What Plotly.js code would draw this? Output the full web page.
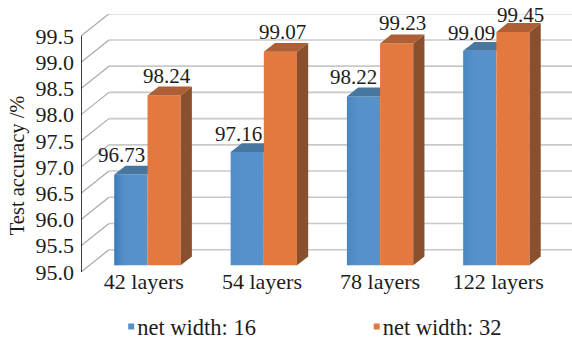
<!DOCTYPE html>
<html>
<head>
<meta charset="utf-8">
<script src="https://cdn.plot.ly/plotly-3.0.1.min.js"></script>
<style>html,body{margin:0;padding:0;background:#fff}#chart{width:572px;height:340px}</style>
</head>
<body>
<div id="chart"></div>
<script>
// Test accuracy per network depth, two network widths
const categories = ['42 layers', '54 layers', '78 layers', '122 layers'];
const width16 = [96.73, 97.16, 98.22, 99.09];
const width32 = [98.24, 99.07, 99.23, 99.45];
const seriesNames = ['net width: 16', 'net width: 32'];
const yTicks = [95.0, 95.5, 96.0, 96.5, 97.0, 97.5, 98.0, 98.5, 99.0, 99.5];

// Pixel scale of the front plane
const pxPerCat = 116.4, pxPerUnit = 52.55;
const left = 80.5, top_ = 14, bottom = 67.5, W = 572, H = 340;
const yMin = 95;

// Oblique depth vector: the back wall sits this far from the front plane
const depthX = 28 / pxPerCat, depthY = 22.3 / pxPerUnit;
const near = 0.3, far = 0.7, barW = 33.2 / pxPerCat;

const xRange = [-0.5, -0.5 + (W - left) / pxPerCat];
const yRange = [yMin, yMin + (H - top_ - bottom) / pxPerUnit];

const serif = '"Liberation Serif", "Times New Roman", serif';
const ink = '#1c1c1c';
const colors = {
  blue: {front: '#5692C9', top: '#47769F'},
  orange: {front: '#E4793F', top: '#AE5F35', side: '#8A4F2D'}
};

function poly(pts, color, xa, ya) {
  return {
    type: 'scatter', mode: 'lines', xaxis: xa, yaxis: ya,
    x: pts.map(p => p[0]), y: pts.map(p => p[1]),
    fill: 'toself', fillcolor: color, line: {width: 0, color: color},
    hoverinfo: 'skip', showlegend: false
  };
}
function at(x, v, d) { return [x + d * depthX, v + d * depthY]; }

function barFront(values, name, color, off, xa, ya, legendId) {
  return {
    type: 'bar', name: name, xaxis: xa, yaxis: ya, legend: legendId,
    x: values.map((_, i) => i + near * depthX),
    y: values.map(v => v - yMin),
    base: values.map(() => yMin + near * depthY),
    width: barW, offset: off,
    marker: {color: color, line: {width: 0}},
    hoverinfo: 'skip', showlegend: true
  };
}
function topFace(x0, x1, v, color, xa, ya) {
  return poly([at(x0, v, near), at(x1, v, near), at(x1, v, far), at(x0, v, far), at(x0, v, near)], color, xa, ya);
}
function sideFace(x1, v, color, xa, ya) {
  return poly([at(x1, yMin, near), at(x1, yMin, far), at(x1, v, far), at(x1, v, near), at(x1, yMin, near)], color, xa, ya);
}
// Soft darker shading towards the left edge of a blue bar
function edgeShade(i, v, strength) {
  const x0 = i - barW, x1 = i - barW * 0.55;
  const t = poly([at(x0, yMin, near), at(x1, yMin, near), at(x1, v, near), at(x0, v, near), at(x0, yMin, near)], 'rgba(0,0,0,0)', 'x', 'y');
  t.fillgradient = {type: 'horizontal', colorscale: [[0, 'rgba(44,112,182,' + strength + ')'], [1, 'rgba(86,146,201,0)']]};
  return t;
}

const traces = [];
// Value axis line on the front plane
traces.push({type: 'scatter', mode: 'lines', x: [-0.5, -0.5], y: [yMin, yTicks[yTicks.length - 1]],
  line: {color: '#111', width: 1.6}, cliponaxis: false, hoverinfo: 'skip', showlegend: false});

// Blue series sits on the base axes, orange on an overlay so it hides the blue faces it passes in front of
traces.push(barFront(width16, seriesNames[0], colors.blue.front, -barW, 'x', 'y', 'legend'));
width16.forEach((v, i) => {
  traces.push(topFace(i - barW, i, v, colors.blue.top, 'x', 'y'));
  traces.push(edgeShade(i, v, [0.75, 0.12, 0.35, 0.35][i]));
});

traces.push(barFront(width32, seriesNames[1], colors.orange.front, 0, 'x2', 'y2', 'legend2'));
width32.forEach((v, i) => {
  traces.push(sideFace(i + barW, v, colors.orange.side, 'x2', 'y2'));
  traces.push(topFace(i, i + barW, v, colors.orange.top, 'x2', 'y2'));
});

// Wall gridlines: slanted on the side wall, level on the back wall
const shapes = [];
yTicks.forEach(t => {
  const a = at(-0.5, t, 0), b = at(-0.5, t, 1);
  shapes.push({type: 'line', layer: 'below', xref: 'x', yref: 'y', x0: a[0], y0: a[1], x1: b[0], y1: b[1],
    line: {color: '#a8a8a8', width: 1.2}});
  shapes.push({type: 'line', layer: 'below', xref: 'x', yref: 'y', x0: b[0], y0: b[1], x1: xRange[1], y1: b[1],
    line: {color: '#c8c8c8', width: 1.6}});
});

// Value labels above each bar
const labelFont = {family: serif, size: 21, color: ink};
const shift16 = [[-9, 20], [-8.6, 18], [-10, 19], [-8, 18]];
const shift32 = [[3.3, 19], [1.7, 20], [5.5, 20], [8, 17]];
const annotations = [];
function addLabels(values, shifts, centre) {
  values.forEach((v, i) => {
    const p = at(i + centre, v, near);
    annotations.push({xref: 'x', yref: 'y', x: p[0], y: p[1], xshift: shifts[i][0], yshift: shifts[i][1],
      text: v.toFixed(2), showarrow: false, font: labelFont, xanchor: 'center', yanchor: 'middle'});
  });
}
addLabels(width16, shift16, -barW / 2);
addLabels(width32, shift32, barW / 2);

// Axis title centred on its drawn extent rather than the whole plot box
annotations.push({xref: 'paper', yref: 'paper',
  x: (17 - left) / (W - left), xanchor: 'center',
  y: (H - bottom - 166) / (H - top_ - bottom), yanchor: 'middle',
  text: 'Test accuracy /%', textangle: -90, showarrow: false,
  font: {family: serif, size: 20.5, color: ink}});

const legendBase = {orientation: 'h', xanchor: 'left', y: -0.129, yanchor: 'top',
  font: {family: serif, size: 22.5, color: ink}, bgcolor: 'rgba(0,0,0,0)'};

const layout = {
  width: W, height: H,
  margin: {l: left, r: 0, t: top_, b: bottom, pad: 0, autoexpand: false},
  paper_bgcolor: '#fff', plot_bgcolor: 'rgba(0,0,0,0)',
  font: {family: serif, color: ink},
  xaxis: {type: 'linear', range: xRange, fixedrange: true, showgrid: false, zeroline: false, showline: false,
    tickmode: 'array', tickvals: categories.map((_, i) => i * 1.016 + 0.04), ticktext: categories,
    ticks: '', ticklabelstandoff: -6, tickfont: {family: serif, size: 22, color: ink}},
  yaxis: {type: 'linear', range: yRange, fixedrange: true, showgrid: false, zeroline: false, showline: false,
    tickmode: 'array', tickvals: yTicks, ticktext: yTicks.map(t => t.toFixed(1)),
    ticks: '', ticklabelstandoff: 6, tickfont: {family: serif, size: 22, color: ink}},
  xaxis2: {type: 'linear', range: xRange, overlaying: 'x', visible: false, fixedrange: true},
  yaxis2: {type: 'linear', range: yRange, overlaying: 'y', visible: false, fixedrange: true},
  showlegend: true,
  legend: Object.assign({x: 0.033}, legendBase),
  legend2: Object.assign({x: 0.533}, legendBase),
  shapes: shapes,
  annotations: annotations
};

Plotly.newPlot('chart', traces, layout, {displayModeBar: false, staticPlot: true}).then(gd => {
  // Small square keys sitting close to their entry text
  gd.querySelectorAll('.legendpoints path').forEach(p => {
    p.setAttribute('transform', 'translate(34,0) scale(0.5)');
  });
});
</script>
</body>
</html>
